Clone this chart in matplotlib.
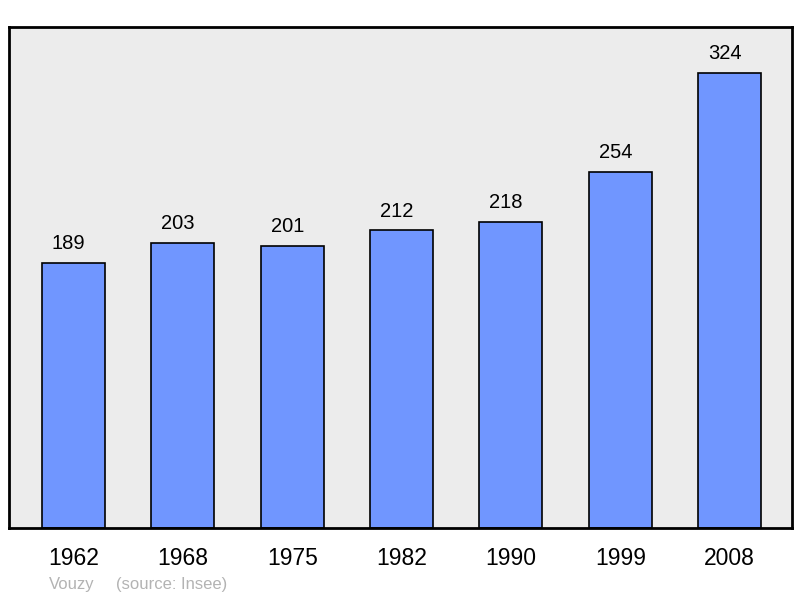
import matplotlib.pyplot as plt

years = ['1962', '1968', '1975', '1982', '1990', '1999', '2008']
population = [189, 203, 201, 212, 218, 254, 324]

plt.rcParams['font.family'] = ['Liberation Sans', 'DejaVu Sans']

fig = plt.figure(figsize=(8, 5.98), dpi=100)
ax = fig.add_axes([0.01125, 0.1171, 0.97875, 0.8378])
ax.set_facecolor('#ececec')

x = range(len(years))
bars = ax.bar(x, population, width=0.576, color='#7096ff', edgecolor='black', linewidth=1.2)

# etiquetas de valores, un poco a la izquierda como en el original
for xi, v in zip(x, population):
    ax.annotate(str(v), (xi, v), xytext=(-3.5, 14), textcoords='offset points',
                ha='center', va='center', fontsize=14.5)

ax.set_xlim(-0.59, 6.57)
ax.set_ylim(0, 357)
ax.set_xticks(list(x))
ax.set_xticklabels(years, fontsize=16.5)
ax.tick_params(axis='x', length=0, pad=13.5)
ax.set_yticks([])
for s in ax.spines.values():
    s.set_linewidth(2)

fig.text(49 / 800, 1 - 584 / 598, 'Vouzy', color='#b3b3b3', fontsize=12, va='center')
fig.text(116 / 800, 1 - 584 / 598, '(source: Insee)', color='#b3b3b3', fontsize=12, va='center')

fig.savefig('out.png', dpi=100)
